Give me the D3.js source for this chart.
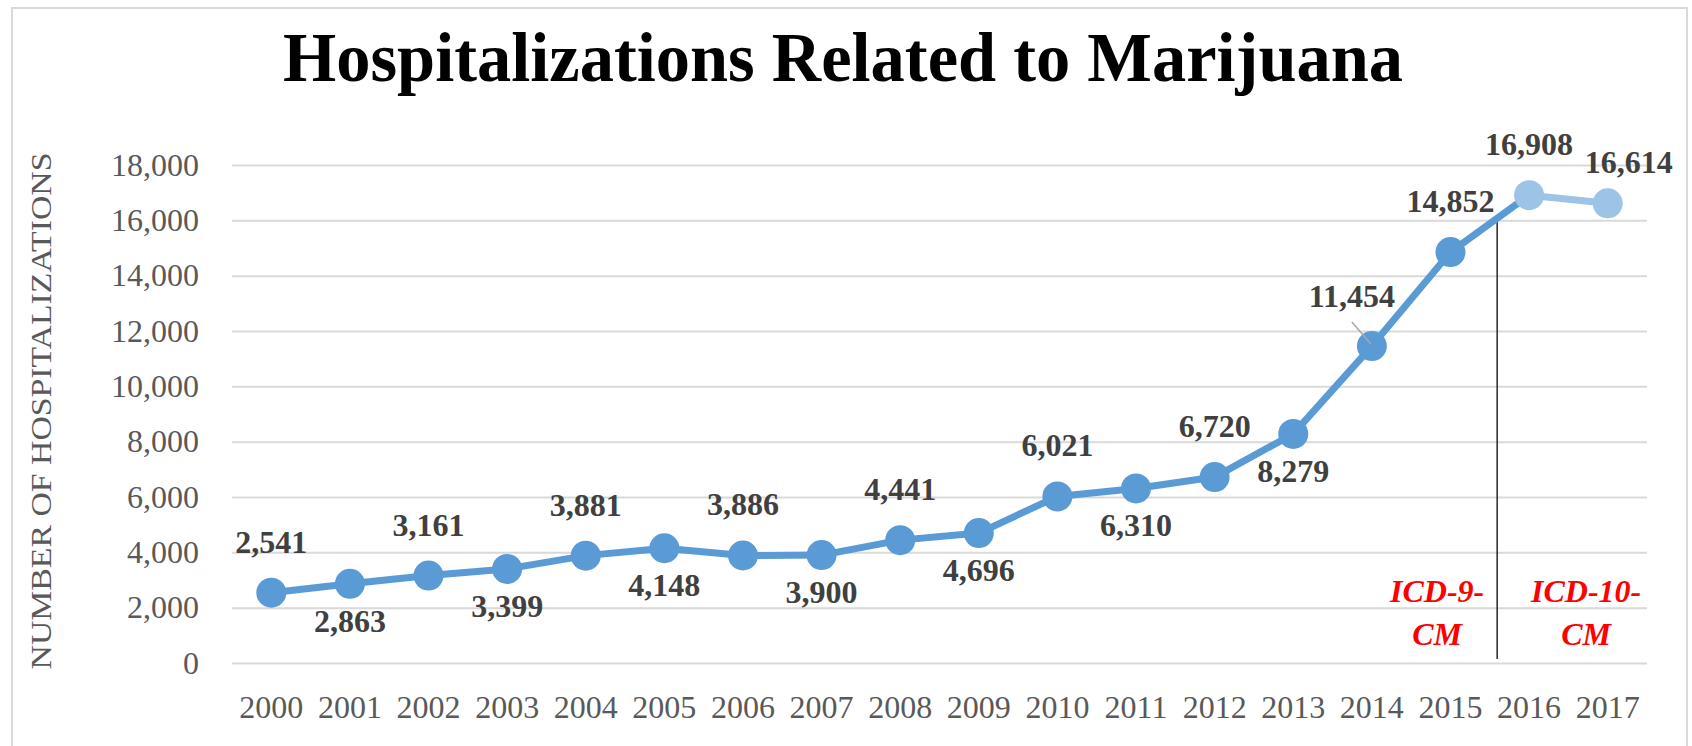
<!DOCTYPE html>
<html>
<head>
<meta charset="utf-8">
<script src="https://cdn.jsdelivr.net/npm/d3@7"></script>
<style>
  html, body { margin: 0; padding: 0; background: #ffffff; }
  svg { display: block; }
</style>
</head>
<body>
<svg id="chart" width="1692" height="746"></svg>
<script>
// ---- data ----
const chartTitle = "Hospitalizations Related to Marijuana";
const yAxisTitle = "NUMBER OF HOSPITALIZATIONS";
const years = ["2000","2001","2002","2003","2004","2005","2006","2007","2008",
               "2009","2010","2011","2012","2013","2014","2015","2016","2017"];
const hospitalizations = [2541, 2863, 3161, 3399, 3881, 4148, 3886, 3900, 4441,
                          4696, 6021, 6310, 6720, 8279, 11454, 14852, 16908, 16614];
const codingSystem = ["ICD-9-CM","ICD-9-CM","ICD-9-CM","ICD-9-CM","ICD-9-CM","ICD-9-CM",
                      "ICD-9-CM","ICD-9-CM","ICD-9-CM","ICD-9-CM","ICD-9-CM","ICD-9-CM",
                      "ICD-9-CM","ICD-9-CM","ICD-9-CM","ICD-9-CM","ICD-10-CM","ICD-10-CM"];
const labelPlacement = ["above","below","above","below","above","below","above","below","above",
                        "below","above","below","above","below","leader","above","above","aboveRight"];
const yTicks = [0, 2000, 4000, 6000, 8000, 10000, 12000, 14000, 16000, 18000];
const periodLabels = [["ICD-9-", "CM"], ["ICD-10-", "CM"]];

// ---- layout ----
const svg = d3.select("#chart");
const plot = { left: 232, right: 1647, top: 165, bottom: 663 };

const x = d3.scaleBand().domain(years).range([plot.left, plot.right]).padding(0);
const cx = d => x(d) + x.bandwidth() / 2;
const y = d3.scaleLinear().domain([0, 18000]).range([plot.bottom, plot.top]);

const darkBlue = "#5B9BD5", lightBlue = "#9DC3E6";
const colorFor = i => codingSystem[i] === "ICD-9-CM" ? darkBlue : lightBlue;

// outer border
svg.append("rect")
  .attr("x", 12).attr("y", 8).attr("width", 1675).attr("height", 760)
  .attr("fill", "#ffffff").attr("stroke", "#D9D9D9").attr("stroke-width", 2);

// title
svg.append("text")
  .attr("x", 843).attr("y", 81)
  .attr("text-anchor", "middle")
  .attr("font-family", "'Liberation Serif', 'DejaVu Serif', serif")
  .attr("font-weight", "bold")
  .attr("font-size", 70)
  .attr("fill", "#000000")
  .attr("textLength", 1120)
  .attr("lengthAdjust", "spacingAndGlyphs")
  .text(chartTitle);

// gridlines + y tick labels via axis
const yAxis = d3.axisLeft(y).tickValues(yTicks)
  .tickSize(-(plot.right - plot.left))
  .tickPadding(33)
  .tickFormat(d3.format(","));
const gy = svg.append("g").attr("transform", `translate(${plot.left},0)`).call(yAxis);
gy.select(".domain").remove();
gy.selectAll(".tick line").attr("stroke", "#D9D9D9").attr("stroke-width", 2);
gy.selectAll(".tick text")
  .attr("font-family", "'Liberation Serif', serif")
  .attr("font-size", 32)
  .attr("fill", "#595959");

// x axis labels
const xAxis = d3.axisBottom(x).tickSize(0).tickPadding(32);
const gx = svg.append("g").attr("transform", `translate(0,${plot.bottom})`).call(xAxis);
gx.select(".domain").remove();
gx.selectAll(".tick text")
  .attr("font-family", "'Liberation Serif', serif")
  .attr("font-size", 32)
  .attr("fill", "#595959");

// y axis title
svg.append("text")
  .attr("transform", `translate(51,${(plot.top + plot.bottom) / 2 - 3}) rotate(-90)`)
  .attr("text-anchor", "middle")
  .attr("font-family", "'Liberation Serif', serif")
  .attr("font-size", 30)
  .attr("fill", "#595959")
  .attr("textLength", 517)
  .attr("lengthAdjust", "spacingAndGlyphs")
  .text(yAxisTitle);

// divider between coding systems
const iLast9 = codingSystem.lastIndexOf("ICD-9-CM");
const t = 0.594;
const divX = cx(years[iLast9]) + x.bandwidth() * t;
const divTopY = y(hospitalizations[iLast9]) + t * (y(hospitalizations[iLast9 + 1]) - y(hospitalizations[iLast9]));
svg.append("line")
  .attr("x1", divX).attr("x2", divX)
  .attr("y1", divTopY).attr("y2", plot.bottom - 4)
  .attr("stroke", "#262626").attr("stroke-width", 1.5);

// period labels
const periodCenters = [divX - 60, divX + 89];
periodLabels.forEach((lines, k) => {
  const tx = svg.append("text")
    .attr("text-anchor", "middle")
    .attr("font-family", "'Liberation Serif', serif")
    .attr("font-style", "italic")
    .attr("font-weight", "bold")
    .attr("font-size", 32)
    .attr("fill", "#FF0000");
  lines.forEach((ln, j) => {
    tx.append("tspan").attr("x", periodCenters[k]).attr("y", 602 + j * 43).text(ln);
  });
});

// line segments (colour taken from the segment's start point)
const lineGen = d3.line().x(d => cx(d.year)).y(d => y(d.value));
const pts = years.map((yr, i) => ({ year: yr, value: hospitalizations[i], i }));
const segs = d3.pairs(pts);
svg.append("g").selectAll("path").data(segs).join("path")
  .attr("d", d => lineGen(d))
  .attr("fill", "none")
  .attr("stroke", d => colorFor(d[0].i))
  .attr("stroke-width", 7)
  .attr("stroke-linecap", "round");

// markers
svg.append("g").selectAll("circle").data(pts).join("circle")
  .attr("cx", d => cx(d.year)).attr("cy", d => y(d.value))
  .attr("r", 15)
  .attr("fill", d => colorFor(d.i));

// leader lines
pts.filter(d => labelPlacement[d.i] === "leader").forEach(d => {
  svg.append("line")
    .attr("x1", cx(d.year) - 20).attr("y1", y(d.value) - 24)
    .attr("x2", cx(d.year) - 1).attr("y2", y(d.value) - 2)
    .attr("stroke", "#A6A6A6").attr("stroke-width", 1.5);
});

// data labels
const fmt = d3.format(",");
svg.append("g").selectAll("text").data(pts).join("text")
  .attr("x", d => {
    const p = labelPlacement[d.i];
    if (p === "leader") return cx(d.year) - 20;
    if (p === "aboveRight") return cx(d.year) + 21;
    return cx(d.year);
  })
  .attr("y", d => {
    const p = labelPlacement[d.i];
    if (p === "below") return y(d.value) + 48;
    if (p === "leader") return y(d.value) - 39;
    if (p === "aboveRight") return y(d.value) - 30;
    return y(d.value) - 40;
  })
  .attr("text-anchor", "middle")
  .attr("font-family", "'Liberation Serif', serif")
  .attr("font-weight", "bold")
  .attr("font-size", 32)
  .attr("fill", "#404040")
  .text(d => fmt(d.value));
</script>
</body>
</html>
